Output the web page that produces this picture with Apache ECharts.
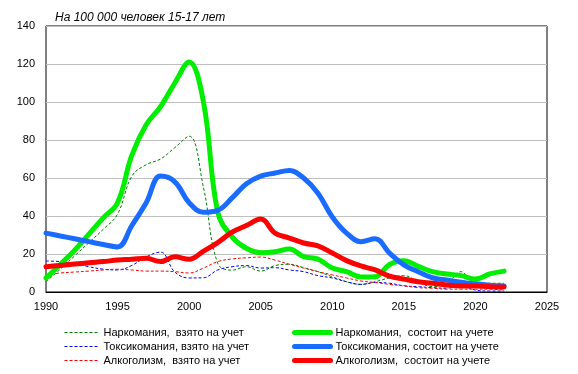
<!DOCTYPE html>
<html><head><meta charset="utf-8">
<script src="https://cdn.jsdelivr.net/npm/echarts@6/dist/echarts.min.js"></script>
<style>html,body{margin:0;padding:0;background:#fff}#c{width:578px;height:374px}</style>
</head><body><div id="c"></div>
<script>
var years = [1990,1991,1992,1993,1994,1995,1996,1997,1998,1999,2000,2001,2002,2003,2004,2005,2006,2007,2008,2009,2010,2011,2012,2013,2014,2015,2016,2017,2018,2019,2020,2021,2022];
var narcoReg = [5.5,12,19,26,33,41,61,67,70,76,82,55,15,11.5,13.3,11,13.9,14.6,12.8,10.7,8,5.4,4,5.4,7.4,8.6,5.4,2.8,4.6,10.7,3.3,4.6,4.6];
var toxReg = [16.3,16,15,13.3,12,11.6,14,18.5,21,10.5,7.4,7.5,11.6,13.3,13.9,12.6,12.8,11.6,10.7,8.6,7.4,5.4,4,5,4.6,3.3,2.8,2.3,2,3.3,1,0.5,0.5];
var alcReg = [9,10,10.5,11,11.6,12,11.6,11,11,10.7,10,12.6,16,17.4,18,18.4,16.8,14.6,12.6,10.7,9,7.4,5.8,5,4,3.2,2.3,2,1.5,1.5,1.5,1.5,1];
var narcoObs = [7.4,14.5,22,30.5,39,47,72,88,97.5,110,121,100,42,29,23,20.7,21.2,22.6,18.6,17.3,12.6,10.7,7.9,8,14.5,16.5,13.5,10.7,9.5,8.6,6.8,9.5,11];
var toxObs = [31,29.5,28,26.5,25,23.7,35,47,61,58,47,42,43,49.5,57,61,62.6,64,60,52,39.5,31,26.5,28,20.5,14.3,10.7,7.5,6.3,5.2,4.3,3.6,3.2];
var alcObs = [13.3,14,14.7,15.4,16,16.8,17.2,17.7,16,18.5,17.2,21.5,26,31.5,35,38.4,31,28.4,25.8,24.3,20.5,16.5,13.7,11.6,8.4,6.8,5.4,4.6,3.7,3.2,3.2,2.8,2.6];
var names = ['Наркомания,  взято на учет','Токсикомания, взято на учет','Алкоголизм,  взято на учет',
             'Наркомания,  состоит на учете','Токсикомания, состоит на учете','Алкоголизм,  состоит на учете'];
var title = 'На 100 000 человек 15-17 лет';

function pairs(v){ return years.map(function(y,i){ return [y, v[i]]; }); }
var FONT = 'Liberation Sans, Arial, sans-serif';
function dashed(name, data, color){
  return {name:name, type:'line', data:pairs(data), showSymbol:false, symbol:'none', smooth:0.4,
    lineStyle:{color:color, width:1, type:[3,2]}, itemStyle:{color:color}, z:2};
}
function thick(name, data, color){
  return {name:name, type:'line', data:pairs(data), showSymbol:false, symbol:'none', smooth:0.4,
    lineStyle:{color:color, width:5, cap:'round', join:'round'}, itemStyle:{color:color}, z:3};
}
var legendText = {fontFamily:FONT, fontSize:11, color:'#000'};
function legItem(n, w){ return {name:n, lineStyle:{width:w}}; }
var chart = echarts.init(document.getElementById('c'), null, {renderer:'canvas'});
chart.setOption({
  animation:false,
  backgroundColor:'#fff',
  title:{text:title, left:50, top:7, textStyle:{fontFamily:FONT, fontSize:12, fontStyle:'italic', fontWeight:'normal', color:'#000'}},
  grid:{left:46, right:31, top:26, bottom:82, show:true, borderColor:'#000', borderWidth:1, containLabel:false},
  xAxis:{type:'value', min:1990, max:2025, interval:5,
    axisLine:{show:true, lineStyle:{color:'#000', width:1}}, axisTick:{show:false}, splitLine:{show:false},
    axisLabel:{fontFamily:FONT, fontSize:11, color:'#000', margin:9, formatter:function(v){return String(v);}}},
  yAxis:{type:'value', min:0, max:140, interval:20,
    axisLine:{show:false}, axisTick:{show:false},
    splitLine:{show:true, lineStyle:{color:'#bfbfbf', width:1}},
    axisLabel:{fontFamily:FONT, fontSize:11, color:'#000', margin:11}},
  legend:[
    {data:[legItem(names[0],1),legItem(names[1],1),legItem(names[2],1)], orient:'vertical', left:59, top:322, itemWidth:34, itemHeight:11, itemGap:3,
     itemStyle:{opacity:0}, textStyle:legendText},
    {data:[legItem(names[3],5),legItem(names[4],5),legItem(names[5],5)], orient:'vertical', left:287, top:322, itemWidth:36, itemHeight:11, itemGap:3,
     itemStyle:{opacity:0}, textStyle:legendText}
  ],
  series:[
    dashed(names[0], narcoReg, '#008000'),
    dashed(names[1], toxReg, '#0000ff'),
    dashed(names[2], alcReg, '#ff0000'),
    thick(names[3], narcoObs, '#00ee00'),
    thick(names[4], toxObs, '#1a6bff'),
    thick(names[5], alcObs, '#ff0000')
  ]
});
</script></body></html>
